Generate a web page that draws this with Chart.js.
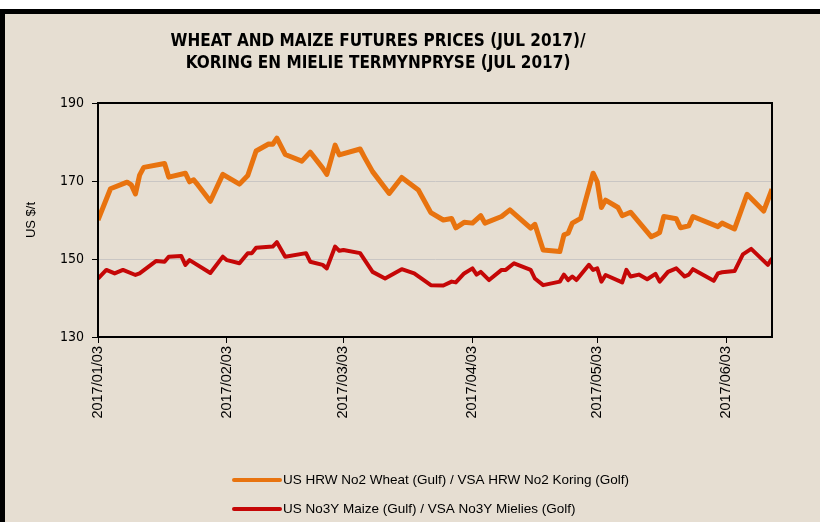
<!DOCTYPE html>
<html>
<head>
<meta charset="utf-8">
<script src="https://cdn.jsdelivr.net/npm/chart.js@4.4.1/dist/chart.umd.min.js"></script>
<style>
    html, body { margin: 0; padding: 0; background: #fff; }
    #marco {
        position: absolute; left: 0; top: 9px; width: 830px; height: 530px;
        background: #e6ded2; border-left: 5px solid #000; border-top: 5px solid #000;
    }
    #contenedor { position: absolute; left: 0; top: 0; width: 820px; height: 522px; }
</style>
</head>
<body>
<div id="marco"></div>
<div id="contenedor"><canvas id="precios" width="820" height="522"></canvas></div>
<script>
// Datos (US $/t)
const fechasTrigo = [
    '2017-01-03','2017-01-06','2017-01-10','2017-01-11','2017-01-12','2017-01-13','2017-01-14',
    '2017-01-19','2017-01-20','2017-01-24','2017-01-25','2017-01-26','2017-01-27','2017-01-30',
    '2017-02-02','2017-02-06','2017-02-08','2017-02-10','2017-02-13','2017-02-14','2017-02-15',
    '2017-02-17','2017-02-21','2017-02-23','2017-02-26','2017-02-27','2017-03-01','2017-03-02',
    '2017-03-07','2017-03-08','2017-03-10','2017-03-14','2017-03-17','2017-03-21','2017-03-24',
    '2017-03-27','2017-03-29','2017-03-30','2017-04-01','2017-04-03','2017-04-05','2017-04-06',
    '2017-04-10','2017-04-12','2017-04-17','2017-04-18','2017-04-20','2017-04-24','2017-04-25',
    '2017-04-26','2017-04-27','2017-04-29','2017-05-02','2017-05-03','2017-05-04','2017-05-05',
    '2017-05-08','2017-05-09','2017-05-11','2017-05-16','2017-05-17','2017-05-18','2017-05-19',
    '2017-05-22','2017-05-23','2017-05-25','2017-05-26','2017-06-01','2017-06-02','2017-06-05',
    '2017-06-08','2017-06-12','2017-06-14'
];
const trigo = [
    160.0, 168.0, 169.7, 169.0, 166.7, 171.5, 173.5,
    174.5, 171.0, 172.0, 169.8, 170.3, 169.0, 164.8,
    171.7, 169.2, 171.4, 177.7, 179.5, 179.4, 181.0,
    176.8, 175.1, 177.4, 173.3, 171.7, 179.2, 176.7,
    178.2, 176.2, 172.4, 166.8, 170.9, 167.7, 161.9,
    160.0, 160.4, 158.0, 159.4, 159.2, 161.1, 159.2,
    160.9, 162.6, 157.9, 158.9, 152.3, 151.9, 156.2,
    156.6, 159.2, 160.4, 172.0, 169.8, 163.2, 165.1,
    163.2, 161.1, 162.0, 155.7, 156.2, 156.8, 160.9,
    160.3, 158.0, 158.5, 160.9, 158.3, 159.2, 157.7,
    166.6, 162.3, 167.9
];

const fechasMaiz = [
    '2017-01-03','2017-01-05','2017-01-07','2017-01-09','2017-01-12','2017-01-13','2017-01-17',
    '2017-01-19','2017-01-20','2017-01-23','2017-01-24','2017-01-25','2017-01-30','2017-02-02',
    '2017-02-03','2017-02-06','2017-02-08','2017-02-09','2017-02-10','2017-02-14','2017-02-15',
    '2017-02-17','2017-02-22','2017-02-23','2017-02-26','2017-02-27','2017-03-01','2017-03-02',
    '2017-03-03','2017-03-07','2017-03-10','2017-03-13','2017-03-17','2017-03-20','2017-03-24',
    '2017-03-27','2017-03-29','2017-03-30','2017-04-01','2017-04-03','2017-04-04','2017-04-05',
    '2017-04-07','2017-04-10','2017-04-11','2017-04-13','2017-04-17','2017-04-18','2017-04-20',
    '2017-04-24','2017-04-25','2017-04-26','2017-04-27','2017-04-28','2017-05-01','2017-05-02',
    '2017-05-03','2017-05-04','2017-05-05','2017-05-09','2017-05-10','2017-05-11','2017-05-13',
    '2017-05-15','2017-05-17','2017-05-18','2017-05-20','2017-05-22','2017-05-24','2017-05-25',
    '2017-05-26','2017-05-31','2017-06-01','2017-06-02','2017-06-05','2017-06-07','2017-06-09',
    '2017-06-13','2017-06-14'
];
const maiz = [
    145.0, 147.2, 146.3, 147.2, 145.9, 146.3, 149.5,
    149.3, 150.6, 150.8, 148.5, 149.7, 146.4, 150.6,
    149.7, 148.9, 151.5, 151.5, 152.9, 153.2, 154.3,
    150.6, 151.5, 149.3, 148.5, 147.6, 153.2, 152.1,
    152.3, 151.5, 146.7, 145.0, 147.4, 146.3, 143.3,
    143.2, 144.2, 144.0, 146.3, 147.6, 146.0, 146.7,
    144.6, 147.2, 147.2, 148.9, 147.2, 145.0, 143.3,
    144.2, 146.0, 144.6, 145.5, 144.6, 148.5, 147.2,
    147.6, 144.2, 145.9, 144.0, 147.2, 145.5, 146.0,
    144.8, 146.2, 144.2, 146.7, 147.6, 145.5, 146.0,
    147.4, 144.4, 146.3, 146.6, 146.9, 151.2, 152.6,
    148.5, 150.2
];

const etiquetasX = ['2017/01/03', '2017/02/03', '2017/03/03', '2017/04/03', '2017/05/03', '2017/06/03'];
const ticksY = [130, 150, 170, 190];

const series = [
    'US HRW No2 Wheat (Gulf) / VSA HRW No2 Koring (Golf)',
    'US No3Y Maize (Gulf) / VSA No3Y Mielies (Golf)'
];
const titulo = ['WHEAT AND MAIZE FUTURES PRICES (JUL 2017)/', 'KORING EN MIELIE TERMYNPRYSE (JUL 2017)'];

// dias contados desde el 3 de enero
const inicio = Date.UTC(2017, 0, 3);
function dia(f) {
    const p = f.split(/[-\/]/);
    return (Date.UTC(+p[0], +p[1] - 1, +p[2]) - inicio) / 86400000;
}
const puntos = (fechas, valores) => fechas.map((f, i) => ({ x: dia(f), y: valores[i] }));

const fuenteNarrow = '"DejaVu Sans Condensed", "Liberation Sans", sans-serif';
const fuente = '"Liberation Sans", Arial, sans-serif';

// titulo, marco y leyenda dibujados a mano
const extras = {
    id: 'extras',
    afterDatasetsDraw(chart) {
        const { ctx, chartArea: a } = chart;
        ctx.save();
        ctx.strokeStyle = '#000';
        ctx.lineWidth = 2;
        ctx.strokeRect(a.left, a.top, a.right - a.left, a.bottom - a.top);
        ctx.restore();
    },
    afterDraw(chart) {
        const ctx = chart.ctx;
        ctx.save();
        ctx.fillStyle = '#000';
        ctx.textAlign = 'center';
        ctx.textBaseline = 'middle';
        ctx.font = 'bold 17px ' + fuenteNarrow;
        ctx.fillText(titulo[0], 378, 42);
        ctx.fillText(titulo[1], 378, 64);

        ctx.textAlign = 'left';
        ctx.font = '13.5px ' + fuente;
        chart.data.datasets.forEach((ds, i) => {
            const y = 480 + i * 29;
            ctx.strokeStyle = ds.borderColor;
            ctx.lineWidth = 4;
            ctx.lineCap = 'round';
            ctx.beginPath();
            ctx.moveTo(234, y);
            ctx.lineTo(280, y);
            ctx.stroke();
            ctx.fillText(ds.label, 283, y);
        });
        ctx.restore();
    }
};

const ctx = document.getElementById('precios');
const grafica = new Chart(ctx, {
    type: 'line',
    data: {
        datasets: [{
            label: series[0],
            data: puntos(fechasTrigo, trigo),
            borderColor: '#e8730f',
            borderWidth: 5,
            pointRadius: 0,
            tension: 0,
            borderJoinStyle: 'round'
        }, {
            label: series[1],
            data: puntos(fechasMaiz, maiz),
            borderColor: '#c50707',
            borderWidth: 4,
            pointRadius: 0,
            tension: 0,
            borderJoinStyle: 'round'
        }]
    },
    options: {
        responsive: false,
        animation: false,
        layout: { padding: { left: 24, right: 48, top: 103, bottom: 85 } },
        plugins: {
            legend: { display: false },
            tooltip: { enabled: false }
        },
        scales: {
            x: {
                type: 'linear',
                min: 0,
                max: dia(fechasTrigo[fechasTrigo.length - 1]),
                afterBuildTicks: s => { s.ticks = etiquetasX.map(e => ({ value: dia(e) })); },
                afterFit: s => { s.height = 100; },
                grid: { drawOnChartArea: false, tickLength: 6, tickColor: '#000' },
                border: { color: '#000', width: 2 },
                ticks: {
                    autoSkip: false,
                    minRotation: 90,
                    maxRotation: 90,
                    padding: 3,
                    color: '#000',
                    font: { family: fuente, size: 14.5 },
                    callback: (v, i) => etiquetasX[i]
                }
            },
            y: {
                min: ticksY[0],
                max: ticksY[ticksY.length - 1],
                afterBuildTicks: s => { s.ticks = ticksY.map(v => ({ value: v })); },
                afterFit: s => { s.width = 74; },
                grid: { color: '#c9c6c4', lineWidth: 1, tickLength: 6, tickColor: '#000' },
                border: { color: '#000', width: 2 },
                title: {
                    display: true,
                    text: 'US $/t',
                    color: '#000',
                    font: { family: fuente, size: 13 },
                    padding: 0
                },
                ticks: {
                    padding: 8,
                    color: '#000',
                    font: { family: fuenteNarrow, size: 14 }
                }
            }
        }
    },
    plugins: [extras]
});
</script>
</body>
</html>
